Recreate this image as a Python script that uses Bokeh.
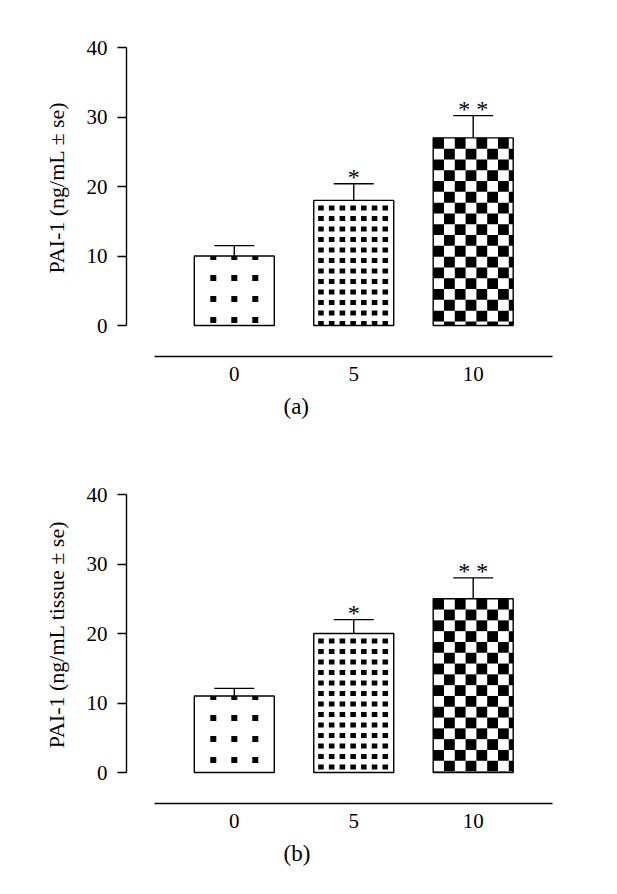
import numpy as np
from bokeh.plotting import figure
from bokeh.layouts import column
from bokeh.models import Range1d, FixedTicker, Title
from bokeh.core.properties import value
from bokeh.embed import file_html
from bokeh.resources import INLINE

# ---------------- data ----------------
doses = ["0", "5", "10"]
pai_a = [10.0, 18.0, 27.0]
se_a = [1.5, 2.4, 3.2]
pai_b = [11.0, 20.0, 25.0]
se_b = [1.1, 2.0, 3.0]
stars = ["", "*", "* *"]
patterns = ["sparse", "dense", "checker"]
y_ticks = [0, 10, 20, 30, 40]
y_labels = ["PAI-1 (ng/mL \u00b1 se)", "PAI-1 (ng/mL tissue \u00b1 se)"]
panel_tags = ["(a)", "(b)"]

# ---------------- layout ----------------
FONT = "Liberation Serif"
W = 601
BL, BR, BT = 126, 41, 18
FRAME_H = 338
X0, X1 = -0.9025, 2.7309
Y0, Y1 = -4.4604, 44.1727
SX = (W - BL - BR) / (X1 - X0)   # px per x unit
SY = FRAME_H / (Y1 - Y0)         # px per y unit
BAR_PX = 80.0
BAR_W = BAR_PX / SX
CAP_W = 40.0 / SX
LW = 1.4


def pattern_boxes(xc, top, kind):
    """Return quads (l, r, b, t) in data units for the bar fill pattern."""
    L, R, B, T = [], [], [], []
    left = xc - BAR_W / 2
    h_px = top * SY

    def add(x0px, x1px, y0px, y1px):
        x0px, x1px = max(x0px, 0.0), min(x1px, BAR_PX)
        y0px, y1px = max(y0px, 0.0), min(y1px, h_px)
        if x1px <= x0px or y1px <= y0px:
            return
        L.append(left + x0px / SX)
        R.append(left + x1px / SX)
        T.append(top - y0px / SY)
        B.append(top - y1px / SY)

    if kind == "sparse":
        s = 6.0
        pitch = 21.0
        cols = [BAR_PX / 2 - pitch, BAR_PX / 2, BAR_PX / 2 + pitch]
        r = 1.0
        while r - s / 2 < h_px:
            for c in cols:
                add(c - s / 2, c + s / 2, r - s / 2, r + s / 2)
            r += pitch
    elif kind == "dense":
        sw, sh = 5.6, 5.0
        px_, py_ = 10.72, 10.5
        y = 5.0
        while y < h_px:
            x = 4.4
            while x < BAR_PX:
                add(x, x + sw, y, y + sh)
                x += px_
            y += py_
    else:
        c = 10.8
        i = 0
        y = 0.0
        while y < h_px:
            j = 0
            x = 0.0
            while x < BAR_PX:
                if (i + j) % 2 == 0:
                    add(x, x + c, y, y + c)
                x += c
                j += 1
            y += c
            i += 1
    return L, R, B, T


def make_panel(vals, ses, ylabel, tag, height):
    bb = height - BT - FRAME_H
    p = figure(width=W, height=height, output_backend="svg", toolbar_location=None,
               x_range=Range1d(X0, X1), y_range=Range1d(Y0, Y1),
               min_border_left=BL, min_border_right=BR,
               min_border_top=BT, min_border_bottom=bb)
    p.outline_line_color = None
    p.grid.visible = False
    p.background_fill_color = "white"
    p.border_fill_color = "white"

    xs = list(range(len(doses)))
    tops = [v + e for v, e in zip(vals, ses)]

    p.vbar(x=xs, top=vals, bottom=0, width=BAR_W, fill_color="white", line_color=None)
    for x, v, kind in zip(xs, vals, patterns):
        l, r, b, t = pattern_boxes(x, v, kind)
        p.quad(left=l, right=r, bottom=b, top=t, fill_color="black", line_color=None)
    p.vbar(x=xs, top=vals, bottom=0, width=BAR_W, fill_alpha=0,
           line_color="black", line_width=LW)
    p.segment(x0=xs, y0=vals, x1=xs, y1=tops, line_color="black", line_width=LW)
    p.segment(x0=[x - CAP_W / 2 for x in xs], y0=tops,
              x1=[x + CAP_W / 2 for x in xs], y1=tops,
              line_color="black", line_width=LW)
    p.text(x=xs, y=tops, text=stars, text_align="center", text_baseline="alphabetic",
           y_offset=-7, text_font=value(FONT), text_font_size="24px", text_color="black")

    ya = p.yaxis[0]
    ya.bounds = (0, 40)
    ya.ticker = FixedTicker(ticks=y_ticks)
    ya.minor_tick_line_color = None
    ya.major_tick_in = 0
    ya.major_tick_out = 9
    ya.major_tick_line_width = LW
    ya.axis_line_width = LW
    ya.major_label_standoff = 10
    ya.major_label_text_font = FONT
    ya.major_label_text_font_size = "21px"
    ya.major_label_text_color = "black"
    ya.axis_label = ylabel
    ya.axis_label_text_font = FONT
    ya.axis_label_text_font_style = "normal"
    ya.axis_label_text_font_size = "22px"
    ya.axis_label_text_color = "black"
    ya.axis_label_standoff = 15

    xa = p.xaxis[0]
    xa.bounds = (-0.668, 2.664)
    xa.ticker = FixedTicker(ticks=xs)
    xa.major_label_overrides = {i: d for i, d in enumerate(doses)}
    xa.minor_tick_line_color = None
    xa.major_tick_in = 0
    xa.major_tick_out = 0
    xa.axis_line_width = LW
    xa.major_label_standoff = 10
    xa.major_label_text_font = FONT
    xa.major_label_text_font_size = "21px"
    xa.major_label_text_color = "black"

    p.add_layout(Title(text=tag, align="left", offset=157, standoff=17,
                       text_font=FONT, text_font_size="23px",
                       text_font_style="normal", text_color="black"), "below")
    return p


pa = make_panel(pai_a, se_a, y_labels[0], panel_tags[0], 447)
pb = make_panel(pai_b, se_b, y_labels[1], panel_tags[1], 440)
layout = column(pa, pb)

open("out.html", "w").write(file_html(layout, INLINE))
